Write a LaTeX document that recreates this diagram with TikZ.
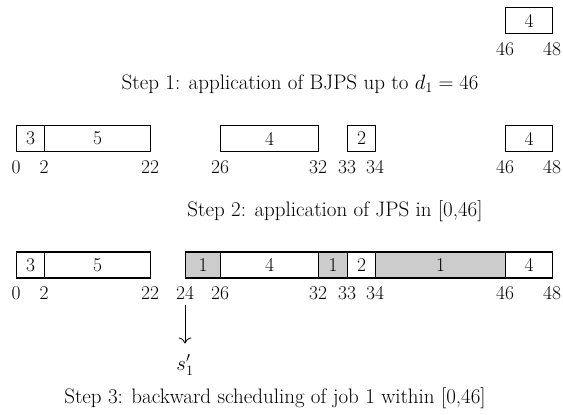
\documentclass[tikz,border=0pt]{standalone}
\usepackage{amsmath,amssymb}
\usepackage{tikz}
\usetikzlibrary{arrows.meta,positioning}
\tikzset{
  job/.style={draw,fill=#1,line width=1.1pt,minimum height=26pt,inner sep=0pt,anchor=west,font=\fontsize{19.5}{22}\selectfont},
  job/.default={white},
  arr/.style={-{To[length=6pt,width=13pt]},line width=0.8pt},
  lbl/.style={inner sep=2pt,font=\fontsize{19.5}{22}\selectfont},
  steptext/.style={inner sep=2pt,font=\fontsize{21}{24}\selectfont},
}
\colorlet{busy}{black!20}

\begin{document}
\begin{tikzpicture}[x=1pt,y=-1pt]
 \useasboundingbox (0,0) rectangle (563,415);
 % step 1
 \node[job,minimum width=47pt] (r1-46) at (505,20.5){4};
 \foreach \t/\x in {46/505,48/552}{\node[lbl] (t1-\t) at (\x,49){\t};}
 \node[steptext] (step1) at (300,84){Step 1: application of BJPS up to $d_1 = 46$};
 % step 2
 \foreach \a/\b/\v in {16/44/3,44/150/5,220/318/4,347/375/2,505/552/4}{\node[job,minimum width=\b-\a] (r2-\a) at (\a,138.5){\v};}
 \foreach \t/\x in {0/16,2/44,22/150,26/220,32/318,33/347,34/375,46/505,48/552}{\node[lbl] (t2-\t) at (\x,167){\t};}
 \node[steptext] (step2) at (335,211){Step 2: application of JPS in [0,46]};
 % step 3
 \foreach \a/\b/\v/\c in {16/44/3/white,44/150/5/white,185/220/1/busy,220/318/4/white,318/347/1/busy,347/375/2/white,375/505/1/busy,505/552/4/white}{\node[job=\c,minimum width=\b-\a] (r3-\a) at (\a,265){\v};}
 \foreach \t/\x in {0/16,2/44,22/150,24/185,26/220,32/318,33/347,34/375,46/505,48/552}{\node[lbl] (t3-\t) at (\x,293){\t};}
 \node[lbl] (s1) at (185,365){$s'_1$};
 \draw[arr,shorten <=3pt,shorten >=9pt] (t3-24) -- (s1);
 \node[steptext] (step3) at (275,398){Step 3: backward scheduling of job 1 within [0,46]};
\end{tikzpicture}
\end{document}
